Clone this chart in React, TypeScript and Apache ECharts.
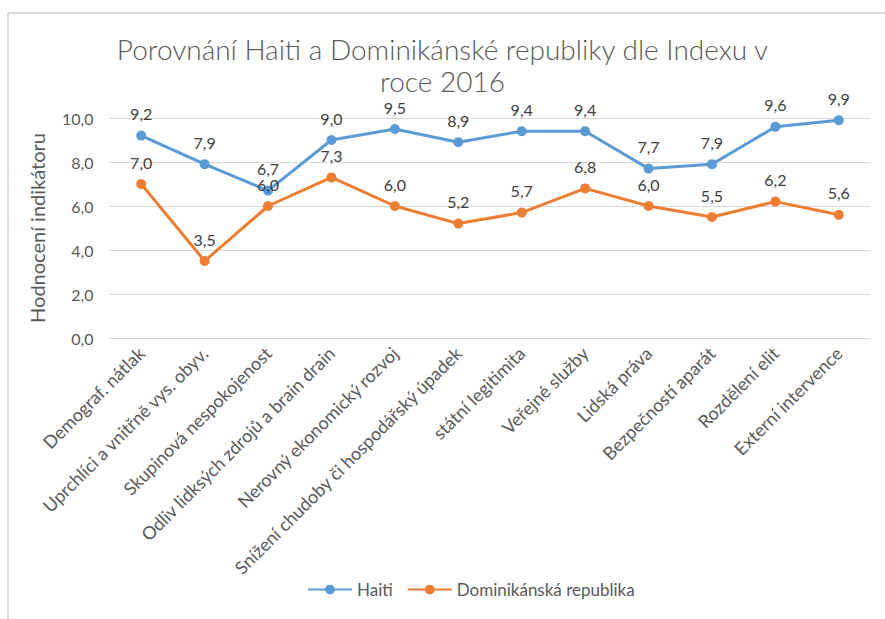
import React, { useEffect, useRef } from "react";
import * as echarts from "echarts";

const categories = [
  "Demograf. nátlak",
  "Uprchlíci a vnitřně vys. obyv.",
  "Skupinová nespokojenost",
  "Odliv lidksých zdrojů a brain drain",
  "Nerovný ekonomický rozvoj",
  "Snížení chudoby či hospodářský úpadek",
  "státní legitimita",
  "Veřejné služby",
  "Lidská práva",
  "Bezpečností aparát",
  "Rozdělení elit",
  "Externí intervence",
];
const haiti = [9.2, 7.9, 6.7, 9.0, 9.5, 8.9, 9.4, 9.4, 7.7, 7.9, 9.6, 9.9];
const dominikanska = [7.0, 3.5, 6.0, 7.3, 6.0, 5.2, 5.7, 6.8, 6.0, 5.5, 6.2, 5.6];
const yTicks = { min: 0, max: 10, interval: 2 };

const FONT = "Lato, 'Open Sans', sans-serif";
const fmt = (v: number) => v.toFixed(1).replace(".", ",");

export default function App() {
  const ref = useRef<HTMLDivElement>(null);
  useEffect(() => {
    if (!ref.current) return;
    const chart = echarts.init(ref.current, undefined, { renderer: "svg" });
    const mkSeries = (name: string, data: number[], color: string) => ({
      name,
      type: "line",
      data,
      symbol: "circle",
      symbolSize: 10,
      itemStyle: { color },
      lineStyle: { color, width: 3 },
      label: {
        show: true,
        position: "top",
        distance: 9,
        fontFamily: FONT,
        fontSize: 16,
        color: "#404040",
        formatter: (p: any) => fmt(p.value),
      },
    });
    chart.setOption({
      animation: false,
      backgroundColor: "#ffffff",
      title: {
        text: "Porovnání Haiti a Dominikánské republiky dle Indexu v\nroce 2016",
        left: "center",
        top: 28,
        textStyle: {
          fontFamily: FONT,
          fontWeight: 300,
          fontSize: 28,
          color: "#595959",
          lineHeight: 32,
        },
      },
      graphic: [
        { type: "line", shape: { x1: 8, y1: 13, x2: 885, y2: 13 }, style: { stroke: "#d9d9d9", lineWidth: 2 } },
        { type: "line", shape: { x1: 8, y1: 13, x2: 8, y2: 619 }, style: { stroke: "#d9d9d9", lineWidth: 2 } },
      ],
      legend: {
        bottom: 16,
        left: 302,
        itemWidth: 44,
        itemHeight: 12,
        itemGap: 14,
        textStyle: { fontFamily: FONT, fontSize: 17, color: "#595959" },
        data: ["Haiti", "Dominikánská republika"],
      },
      grid: { left: 109.5, right: 14.5, top: 118, bottom: 281 },
      xAxis: {
        type: "category",
        data: categories,
        boundaryGap: true,
        axisLine: { show: false },
        axisTick: { show: false },
        axisLabel: {
          rotate: 45,
          interval: 0,
          margin: 12,
          fontFamily: FONT,
          fontSize: 18,
          color: "#595959",
        },
      },
      yAxis: {
        type: "value",
        min: yTicks.min,
        max: yTicks.max,
        interval: yTicks.interval,
        name: "Hodnocení indikátoru",
        nameLocation: "middle",
        nameGap: 63,
        nameTextStyle: { fontFamily: FONT, fontSize: 20, color: "#595959" },
        axisLine: { show: false },
        axisTick: { show: false },
        splitLine: { lineStyle: { color: "#d9d9d9", width: 1 } },
        axisLabel: {
          margin: 16,
          fontFamily: FONT,
          fontSize: 16,
          color: "#595959",
          formatter: (v: number) => fmt(v),
        },
      },
      series: [
        mkSeries("Haiti", haiti, "#5B9BD5"),
        mkSeries("Dominikánská republika", dominikanska, "#ED7D31"),
      ],
    });
    return () => chart.dispose();
  }, []);
  return (
    <div
      ref={ref}
      style={{ position: "absolute", left: 0, top: 0, width: 885, height: 619 }}
    />
  );
}
